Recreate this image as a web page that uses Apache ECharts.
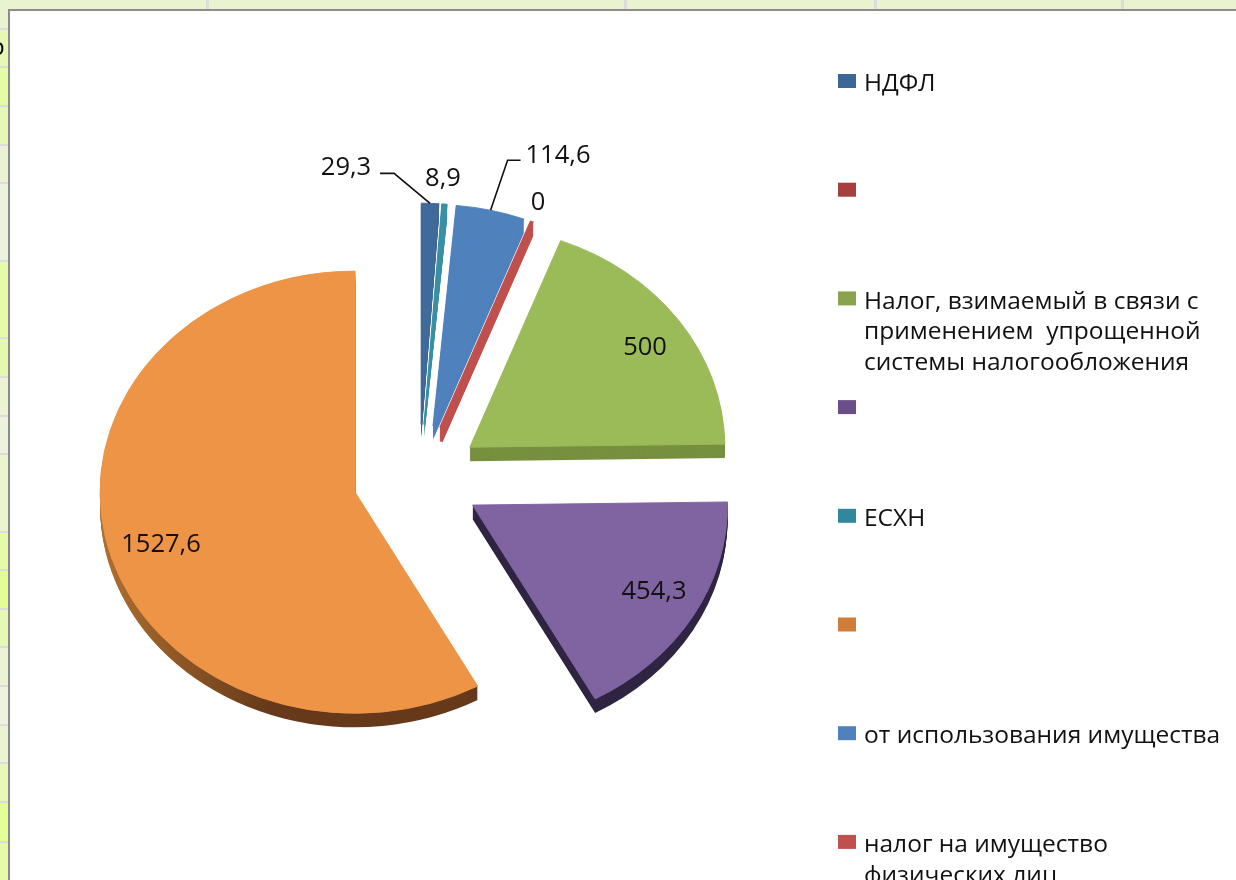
<!DOCTYPE html>
<html>
<head>
<meta charset="utf-8">
<title>Налоговые доходы</title>
<style>
    html, body { margin: 0; padding: 0; background: #fff; }
    #main { width: 1236px; height: 880px; }
</style>
</head>
<body>
<div id="main"></div>
<script src="https://cdn.jsdelivr.net/npm/echarts@6/dist/echarts.min.js"></script>
<script>
// данные секторов, по часовой стрелке от 12 часов
const sliceNames = ['НДФЛ', 'ЕСХН', 'от использования имущества', 'налог на имущество физических лиц',
    'Налог, взимаемый в связи с применением упрощенной системы налогообложения', 'Прочие', 'Остальные'];
const sliceValues = [29.3, 8.9, 114.6, 0, 500, 454.3, 1527.6];
const sliceLabels = ['29,3', '8,9', '114,6', '0', '500', '454,3', '1527,6'];

// легенда
const legendNames = ['НДФЛ', '', 'Налог, взимаемый в связи с\nприменением  упрощенной\nсистемы налогообложения', '',
    'ЕСХН', '', 'от использования имущества', 'налог на имущество\nфизических лиц'];
const legendColors = ['#3c6696', '#a5403e', '#8aa34f', '#6a4f8a', '#32879e', '#cf7d39', '#4f81bd', '#c0504d'];

// оформление секторов
const sliceColors = ['#3f6a99', '#3a8fa5', '#4f81bd', '#c0504d', '#9bbb59', '#8064a2', '#ed9447'];
const sideColors = ['#3f6a99', '#3a8fa5', '#4f81bd', '#c0504d', '#76903f', '#2f2542', {
    type: 'linear', x: 0, y: 0, x2: 1, y2: 0,
    colorStops: [{ offset: 0, color: '#b0702f' }, { offset: 0.45, color: '#66391a' }, { offset: 1, color: '#66391a' }]
}];
const sliceExplode = [62, 62, 62, 62, 62, 62, 66];
const labelPos = [[346, 168], [443, 179], [558, 156], [538, 203], [645, 348], [654, 592], [161, 545]];
// выноски: конец полки относительно внешней точки сектора
const leaderElbow = { 0: [[-36, -30], [-50, -30]], 2: [[17, -50], [30, -50]] };

// полосы листа слева от диаграммы
const sheetLines = [29, 67, 106, 145, 183, 261, 338, 377, 416, 454, 532, 570, 609, 647, 686, 725, 763, 802, 842];
const sheetBands = ['#e9f3cf', '#e6f8b4', '#e4fda4', '#e6f8b8', '#ebf2d3', '#edf2dc', '#e5fba8', '#e5f8b0', '#ebf3d2', '#edf2dc',
    '#ebf4cc', '#e5fba8', '#e1ff95', '#e6f9b4', '#ebf3d4', '#eef2de', '#ecf3d2', '#e7f8b8', '#e2ff98', '#e6fbaa'];
const sheetColumns = [207, 625, 875, 1122];

const font = '"Open Sans", sans-serif';
const pieX = 419, pieY = 478, pieR = 255, tilt = 0.867, depth = 14;
const total = sliceValues.reduce((a, b) => a + b, 0);

function sliceAngles(i) {
    let before = 0;
    for (let k = 0; k < i; k++) before += sliceValues[k];
    const start = before / total * Math.PI * 2;
    const end = (before + sliceValues[i]) / total * Math.PI * 2;
    return [start, end];
}

function renderSlice(params, api) {
    const i = params.dataIndex;
    const [start, end] = sliceAngles(i);
    const mid = (start + end) / 2;
    const ox = pieX + Math.sin(mid) * sliceExplode[i];
    const oy = pieY - Math.cos(mid) * sliceExplode[i] * tilt;
    const shape = { cx: 0, cy: 0, r: pieR, r0: 0, startAngle: start - Math.PI / 2, endAngle: end - Math.PI / 2, clockwise: true };
    const children = [];

    // боковая грань: сдвинутые вниз копии сектора
    for (let d = depth; d >= 1; d--) {
        children.push({
            type: 'sector', x: ox, y: oy + d, scaleY: tilt, shape: shape,
            style: { fill: sideColors[i], stroke: sliceValues[i] === 0 ? sideColors[i] : null, lineWidth: 3 }
        });
    }
    children.push({
        type: 'sector', x: ox, y: oy, scaleY: tilt, shape: shape,
        style: { fill: sliceColors[i], stroke: sliceColors[i], lineWidth: sliceValues[i] === 0 ? 4 : 1, lineJoin: 'bevel' }
    });

    // выноска
    if (leaderElbow[i]) {
        const ax = ox + Math.sin(mid) * pieR;
        const ay = oy - Math.cos(mid) * pieR * tilt;
        children.push({
            type: 'polyline',
            shape: { points: [[ax, ay]].concat(leaderElbow[i].map(p => [ax + p[0], ay + p[1]])) },
            style: { fill: null, stroke: '#111', lineWidth: 1.6 }
        });
    }
    children.push({
        type: 'text', z2: 10, x: labelPos[i][0], y: labelPos[i][1],
        style: { text: sliceLabels[i], font: '25.5px ' + font, fill: '#111', align: 'center', verticalAlign: 'middle' }
    });
    return { type: 'group', children: children };
}

// фон: лист таблицы за диаграммой
const background = [
    { type: 'rect', shape: { x: 0, y: 0, width: 1236, height: 880 }, style: { fill: '#e9f3cf' } }
];
sheetColumns.forEach(x => {
    background.push({ type: 'rect', shape: { x: x - 1, y: 0, width: 3, height: 9 }, style: { fill: '#dcdcdc' } });
});
sheetBands.forEach((color, i) => {
    const top = i === 0 ? 0 : sheetLines[i - 1];
    const bottom = i < sheetLines.length ? sheetLines[i] : 880;
    background.push({ type: 'rect', shape: { x: 0, y: top, width: 8, height: bottom - top }, style: { fill: color } });
});
sheetLines.forEach(y => {
    background.push({ type: 'rect', shape: { x: 0, y: y - 1, width: 8, height: 2 }, style: { fill: '#dcdcdc' } });
});
background.push({ type: 'text', x: -10, y: 36, style: { text: 'р', font: '24px ' + font, fill: '#000' } });
background.push({
    type: 'rect', shape: { x: 9, y: 10, width: 1240, height: 880 },
    style: { fill: '#fff', stroke: '#8c8c8c', lineWidth: 2 }
});

// легенда
const legendTop = 81, legendStep = 108.7;
const legendItems = [];
legendNames.forEach((name, i) => {
    const y = legendTop + i * legendStep;
    legendItems.push({ type: 'rect', shape: { x: 838, y: y - 7, width: 18, height: 14 }, style: { fill: legendColors[i] } });
    if (name) {
        legendItems.push({
            type: 'text', x: 864, y: y - 12,
            style: { text: name, font: '24.5px ' + font, fill: '#111', lineHeight: 30.5, verticalAlign: 'top' }
        });
    }
});

const chart = echarts.init(document.querySelector('#main'), null, { renderer: 'canvas' });
chart.setOption({
    animation: false,
    graphic: background.concat(legendItems),
    series: [{
        type: 'custom',
        coordinateSystem: 'none',
        z: 5,
        renderItem: renderSlice,
        data: sliceValues.map((v, i) => ({ name: sliceNames[i], value: v }))
    }]
});
</script>
</body>
</html>
